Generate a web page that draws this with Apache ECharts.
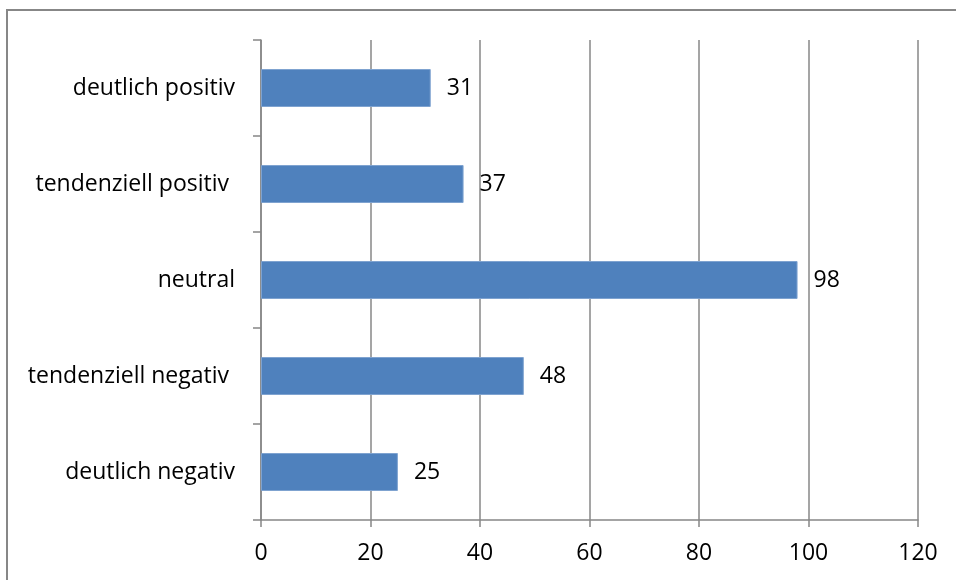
<!DOCTYPE html>
<html>
<head>
<meta charset="utf-8">
<script src="https://cdn.jsdelivr.net/npm/echarts@6/dist/echarts.min.js"></script>
<style>html,body{margin:0;padding:0;background:#fff;}#c{width:956px;height:580px;}</style>
</head>
<body>
<div id="c"></div>
<script>
const categories = ["deutlich negativ", "tendenziell negativ ", "neutral", "tendenziell positiv ", "deutlich positiv"];
const values = [25, 48, 98, 37, 31];
const xTicks = { min: 0, max: 120, interval: 20 };

const FONT = "Open Sans";
const FS = 23;
const GREY = "#878787";

const chart = echarts.init(document.getElementById('c'), null, { renderer: 'canvas' });
chart.setOption({
  animation: false,
  backgroundColor: '#fff',
  textStyle: { fontFamily: FONT },
  graphic: [{
    type: 'rect',
    shape: { x: 7, y: 10, width: 1200, height: 1200 },
    style: { fill: 'none', stroke: GREY, lineWidth: 2 },
    silent: true
  }],
  grid: { left: 261, right: 38, top: 40, bottom: 60, containLabel: false },
  xAxis: {
    type: 'value',
    min: xTicks.min, max: xTicks.max, interval: xTicks.interval,
    axisLine: { show: true, lineStyle: { color: GREY, width: 1.5 } },
    axisTick: { show: true, length: 7, lineStyle: { color: GREY, width: 1.5 } },
    splitLine: { show: true, lineStyle: { color: GREY, width: 1.5 } },
    axisLabel: { color: '#000', fontSize: FS, fontFamily: FONT, margin: 22 }
  },
  yAxis: {
    type: 'category',
    data: categories,
    axisLine: { show: true, lineStyle: { color: GREY, width: 1.5 } },
    axisTick: { show: true, length: 8, lineStyle: { color: GREY, width: 1.5 } },
    axisLabel: { color: '#000', fontSize: FS, fontFamily: FONT, margin: 26 }
  },
  series: [{
    type: 'bar',
    data: values,
    barWidth: 38,
    itemStyle: { color: '#4F81BD', borderColor: '#7FA3D0', borderWidth: 1 },
    label: { show: true, position: 'right', distance: 16, color: '#000', fontSize: FS, fontFamily: FONT }
  }]
});
</script>
</body>
</html>
